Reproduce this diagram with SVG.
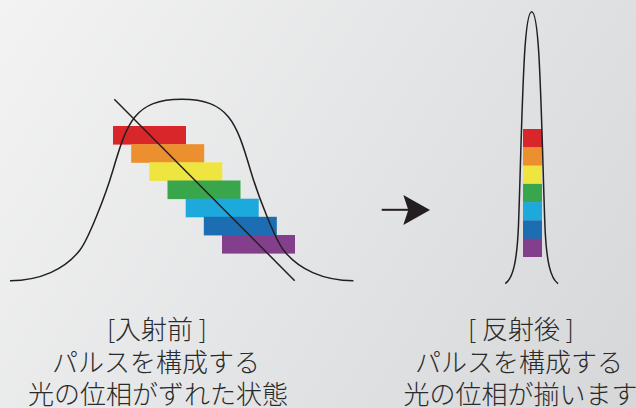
<svg xmlns="http://www.w3.org/2000/svg" width="636" height="408" viewBox="0 0 636 408">
  <defs>
    <linearGradient id="bg" x1="0" y1="0" x2="636" y2="408" gradientUnits="userSpaceOnUse">
      <stop offset="0" stop-color="#f3f3f3"/>
      <stop offset="0.5" stop-color="#e4e5e6"/>
      <stop offset="1" stop-color="#d6d7d9"/>
    </linearGradient>
  </defs>
  <style>
    .curve { fill: none; stroke: #231f20; stroke-width: 1.5; }
    .lbl { font-family: "Noto Sans CJK JP", "Liberation Serif", serif; font-size: 26px; font-weight: 300; fill: #2a2a2a; text-anchor: middle; }
    .r { fill: #d9262b; } .o { fill: #ec8f2f; } .y { fill: #efe540; } .g { fill: #39a64b; }
    .c { fill: #1ea9dd; } .b { fill: #1c6db1; } .p { fill: #833f8b; }
  </style>
  <rect x="0" y="0" width="636" height="408" fill="url(#bg)"/>

  <g id="before-pulse">
    <rect class="r" x="113" y="126" width="73" height="18.6"/>
    <rect class="o" x="131.2" y="144.2" width="73" height="18.6"/>
    <rect class="y" x="149.3" y="162.3" width="73" height="18.6"/>
    <rect class="g" x="167.5" y="180.5" width="73" height="18.6"/>
    <rect class="c" x="185.7" y="198.7" width="73" height="18.6"/>
    <rect class="b" x="203.8" y="216.8" width="73" height="18.6"/>
    <rect class="p" x="222" y="235" width="73" height="18.6"/>
    <path class="curve" d="M10,280.7 C40,280.7 65,269.4 80,250 C88,239.7 105,197.2 113,170 C127,122.4 135,99.3 181.7,99.3 C228.4,99.3 236.4,122.4 250.4,170 C258.4,197.2 275.4,239.7 283.4,250 C298.4,269.4 323.4,280.7 353.4,280.7"/>
    <line class="curve" x1="114.3" y1="99.3" x2="294.7" y2="280.7"/>
  </g>

  <g id="after-pulse">
    <rect class="r" x="523" y="129" width="19" height="18.6"/>
    <rect class="o" x="523" y="147.3" width="19" height="18.6"/>
    <rect class="y" x="523" y="165.6" width="19" height="18.6"/>
    <rect class="g" x="523" y="183.9" width="19" height="18.6"/>
    <rect class="c" x="523" y="202.1" width="19" height="18.6"/>
    <rect class="b" x="523" y="220.4" width="19" height="18.6"/>
    <rect class="p" x="523" y="238.7" width="19" height="18.3"/>
    <path class="curve" d="M505.3,283.7 C513,278 517,262 518.5,225 C520.5,170 521.5,110 524.5,55 C526.5,22 529,11.7 531.7,11.7 C534.4,11.7 536.9,22 538.9,55 C541.9,110 542.9,170 544.9,225 C546.4,262 550.4,278 558.1,283.7"/>
  </g>

  <g id="connectors">
    <line x1="381.7" y1="209.8" x2="410" y2="209.8" stroke="#231f20" stroke-width="2"/>
    <polygon points="430,210 403.3,195 408.3,210 403.3,225" fill="#231f20"/>
  </g>

  <g id="label-before">
    <text class="lbl" x="157" y="339">[入射前 ]</text>
    <text class="lbl" x="156" y="371.5">パルスを構成する</text>
    <text class="lbl" x="158" y="403.5">光の位相がずれた状態</text>
  </g>
  <g id="label-after">
    <text class="lbl" x="521" y="339">[ 反射後 ]</text>
    <text class="lbl" x="519" y="372">パルスを構成する</text>
    <text class="lbl" x="520.5" y="404">光の位相が揃います</text>
  </g>
</svg>
